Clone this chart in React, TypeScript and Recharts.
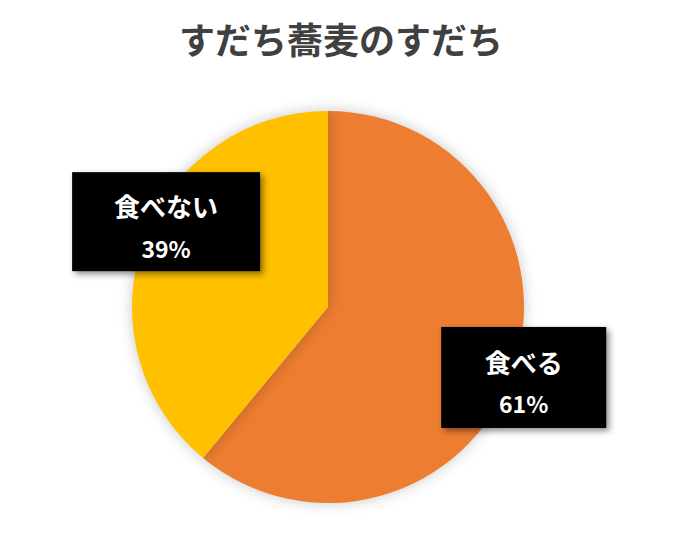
import { PieChart, Pie, Cell } from 'recharts'

const categories = ['食べる', '食べない']
const values = [61, 39]
const colors = ['#ED7D31', '#FFC000']

const data = categories.map((name, i) => ({ name, value: values[i] }))

// label boxes: distance from centre, angle nudge, box size
const boxStyle = [
  { r: 208, da: 0, w: 165, h: 101 },
  { r: 183, da: -8, w: 188, h: 99 },
]

const RAD = Math.PI / 180

const renderLabel = (p: any) => {
  const { cx, cy, midAngle, index, percent, name } = p
  const s = boxStyle[index]
  const a = (midAngle + s.da) * RAD
  const x = cx + s.r * Math.cos(a)
  const y = cy - s.r * Math.sin(a)
  return (
    <g>
      <rect x={x - s.w / 2} y={y - s.h / 2} width={s.w} height={s.h} fill="#000" filter="url(#boxShadow)" />
      <text x={x} y={y - 16} fill="#fff" fontSize={26} fontWeight="bold" textAnchor="middle" dominantBaseline="central">
        {name}
      </text>
      <text x={x} y={y + 26} fill="#fff" fontSize={23} fontWeight="bold" textAnchor="middle" dominantBaseline="central">
        {Math.round(percent * 100)}%
      </text>
    </g>
  )
}

export default function App() {
  return (
    <div style={{ position: 'absolute', left: 0, top: 0, width: 682, height: 541, background: '#fff', fontFamily: '"Noto Sans CJK JP", "Noto Sans", sans-serif' }}>
      <style>{`.recharts-pie-sector { filter: drop-shadow(0 0 7px rgba(0,0,0,0.22)); }`}</style>
      <div style={{ position: 'absolute', top: 12, left: 0, width: 682, textAlign: 'center', fontSize: 36, fontWeight: 'bold', color: '#404040' }}>
        すだち蕎麦のすだち
      </div>
      <PieChart width={682} height={541}>
        <defs>
          <filter id="boxShadow" x="-20%" y="-20%" width="140%" height="140%">
            <feDropShadow dx="3" dy="3" stdDeviation="3" floodColor="#000" floodOpacity="0.45" />
          </filter>
        </defs>
        <Pie
          data={data}
          dataKey="value"
          nameKey="name"
          cx={323}
          cy={302}
          outerRadius={196}
          startAngle={90}
          endAngle={-270}
          stroke="none"
          labelLine={false}
          label={renderLabel}
          isAnimationActive={false}
        >
          {data.map((d, i) => (
            <Cell key={d.name} fill={colors[i]} />
          ))}
        </Pie>
      </PieChart>
    </div>
  )
}
